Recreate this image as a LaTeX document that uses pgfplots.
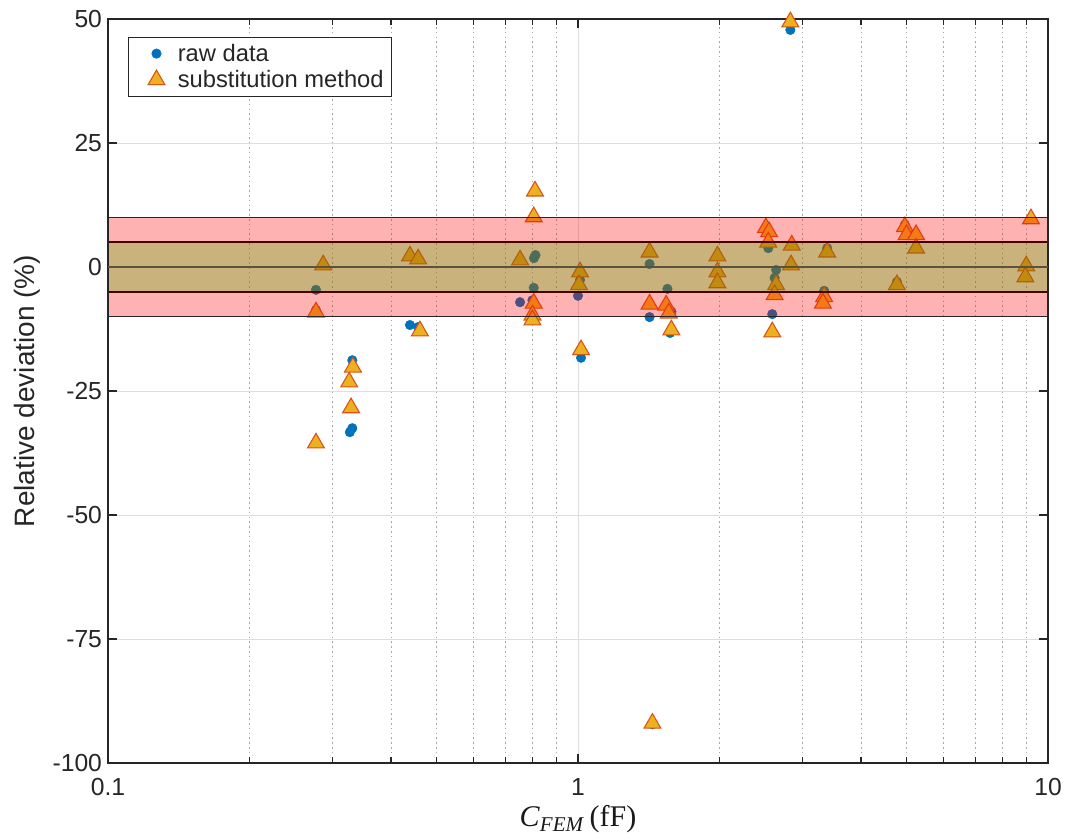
\documentclass[border=0pt]{standalone}
\usepackage{fontspec}
\setmainfont{Liberation Sans}
\newfontfamily\timesfont{Liberation Serif}
\usepackage{pgfplots}
\usepackage{pgfplotstable}
\pgfplotsset{compat=1.18}
\definecolor{mblue}{RGB}{0,114,189}
\definecolor{myellow}{RGB}{237,177,32}
\definecolor{morange}{RGB}{217,83,25}
\definecolor{axgray}{RGB}{38,38,38}
\definecolor{zline}{RGB}{90,82,62}

\pgfplotstableread{
x y
0.277 -4.6
0.277 -8.7
0.277 -35.5
0.287 0.4
0.331 -18.8
0.331 -32.5
0.327 -33.3
0.439 -11.7
0.457 -12.1
0.439 2.2
0.457 1.6
0.812 2.4
0.806 1.8
0.805 -4.2
0.753 -7.1
0.800 -6.7
0.800 -9.7
0.805 10.1
0.810 15.3
0.753 1.4
1.000 -5.8
1.010 -2.6
1.005 -3.6
1.015 -18.3
1.42 0.6
1.42 -10.1
1.42 -7.5
1.55 -4.4
1.58 -9.0
1.57 -13.3
1.44 -92.2
1.98 2.2
1.98 -1.0
1.98 -3.2
2.51 7.9
2.55 7.1
2.54 3.8
2.64 -0.6
2.62 -2.2
2.59 -9.5
2.85 4.4
2.84 0.4
2.83 47.8
3.39 3.8
3.34 -4.8
3.32 -7.3
4.77 -3.0
4.96 8.5
5.00 6.5
5.24 6.5
5.24 3.8
9.20 9.7
8.99 0.2
8.95 -2.0
}\rawdata

\pgfplotstableread{
x y
0.277 -9.1
0.287 0.4
0.277 -35.5
0.326 -23.2
0.332 -20.2
0.329 -28.4
0.439 2.2
0.457 1.6
0.461 -12.9
0.753 1.4
0.810 15.3
0.805 10.1
0.805 -7.3
0.800 -9.7
0.800 -10.7
1.010 -1.0
1.005 -3.6
1.015 -16.7
1.42 3.0
1.42 -7.5
1.54 -7.7
1.56 -9.3
1.58 -12.7
1.44 -92.0
1.98 2.2
1.98 -1.0
1.98 -3.2
2.51 7.9
2.55 7.1
2.54 5.0
2.85 4.4
2.84 0.4
2.64 -3.6
2.62 -5.6
2.59 -13.1
2.83 49.4
3.39 3.0
3.34 -6.0
3.32 -7.3
4.77 -3.6
4.96 8.1
5.00 6.5
5.24 6.5
5.24 3.8
9.20 9.7
8.99 0.2
8.95 -2.0
}\subdata

\pgfplotsset{
  wideleg/.style={legend image code/.code={\path[draw=none,fill=none] (0pt,-1pt) rectangle (31pt,1pt);\draw[mark repeat=2,mark phase=2,##1] plot coordinates {(0pt,0pt) (17pt,0pt) (31pt,0pt)};}},
}

\begin{document}
\begin{tikzpicture}
\begin{axis}[
  set layers,
  at={(81pt,56.25pt)}, anchor=south west, scale only axis,
  width=705pt, height=558pt,
  xmode=log, xmin=0.1, xmax=10, ymin=-100, ymax=50,
  xtick={0.1,1,10}, xticklabels={0.1,1,10},
  ytick={-100,-75,-50,-25,0,25,50},
  yticklabels={-100,-75,-50,-25,0,25,50},
  axis line style={axgray, line width=1pt},
  tick style={axgray, line width=0.8pt},
  tick align=inside,
  major tick length=7pt, minor tick length=4.5pt,
  xmajorgrids, ymajorgrids, xminorgrids,
  major grid style={color=black!13, line width=0.7pt},
  minor grid style={color=black!35, line width=0.6pt, dash pattern=on 1.2pt off 2.4pt},
  tick label style={color=axgray, font=\fontsize{18.5pt}{22pt}\selectfont},
  xticklabel style={yshift=-8pt},
  yticklabel style={xshift=-1pt},
  xlabel={\timesfont\textit{C}\textsubscript{\textit{FEM}}\,(fF)},
  xlabel style={at={(axis description cs:0.5,-0.076)}, anchor=center, font=\fontsize{22.5pt}{26pt}\selectfont, color=black!90},
  ylabel={Relative deviation (\%)},
  ylabel style={at={(axis description cs:-0.0862,0.5)}, anchor=center, font=\fontsize{21pt}{25pt}\selectfont, color=axgray},
  legend style={at={(axis description cs:0.0213,0.976)}, anchor=north west,
    draw=axgray, line width=0.7pt, fill=white,
    font=\fontsize{17.8pt}{21pt}\selectfont, text=axgray,
    inner xsep=4pt, inner ysep=3pt, row sep=1.3pt},
  legend cell align=left,
]
\addplot[only marks, wideleg, mark=*, mark size=3.6pt, mark options={fill=mblue, draw=mblue, line width=0.3pt}] table {\rawdata};
\addlegendentry{raw data}
\addplot[only marks, wideleg, mark=triangle*, mark size=7.3pt, mark options={fill=myellow, draw=morange, line width=0.8pt}] table {\subdata};
\addlegendentry{substitution method}
% bands
\begin{pgfonlayer}{axis foreground}
\addplot[forget plot, draw=black, line width=1.1pt, fill=green, fill opacity=0.3] coordinates {(0.1,-5) (10,-5) (10,5) (0.1,5) (0.1,-5)};
\addplot[forget plot, draw=black!85, line width=1.1pt, fill=red, fill opacity=0.3] coordinates {(0.1,-10) (10,-10) (10,10) (0.1,10) (0.1,-10)};
\addplot[forget plot, draw=zline, line width=1.1pt] coordinates {(0.1,0) (10,0)};
\end{pgfonlayer}
\end{axis}
\pgfresetboundingbox
\path[use as bounding box] (0,0) rectangle (801.75pt,628.5pt);
\end{tikzpicture}
\end{document}
